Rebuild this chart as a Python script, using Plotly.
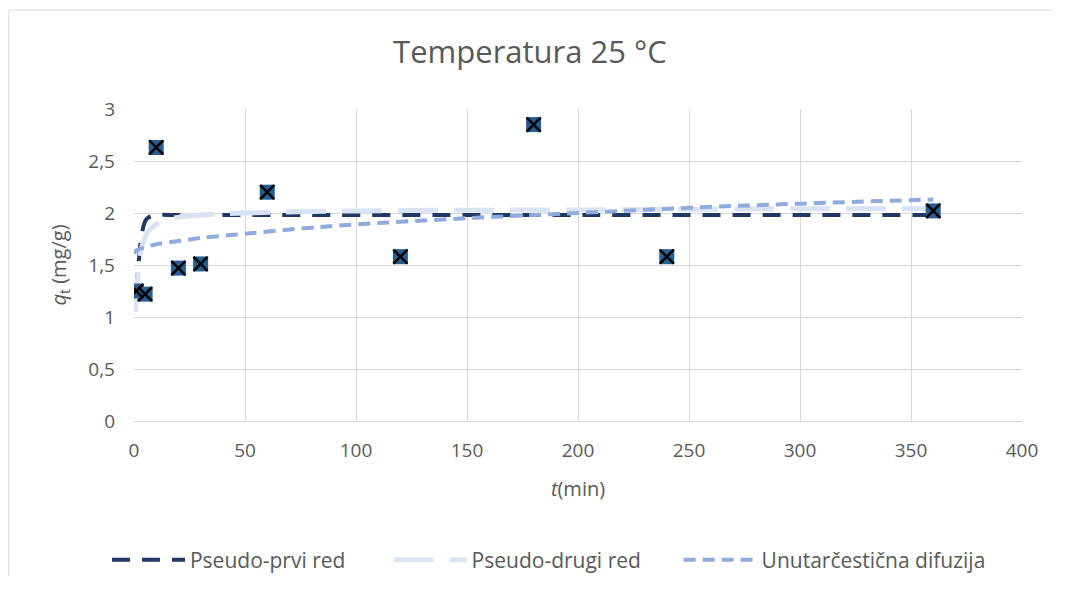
import plotly.graph_objects as go

# measured points
t_exp = [1, 5, 10, 20, 30, 60, 120, 180, 240, 360]
q_exp = [1.25, 1.22, 2.63, 1.47, 1.51, 2.20, 1.58, 2.85, 1.58, 2.02]

# model curves
t_pfo = [1, 2, 3, 4, 5, 6, 8, 10, 20, 50, 100, 200, 300, 360]
q_pfo = [1.25, 1.50, 1.72, 1.85, 1.92, 1.95, 1.97, 1.98, 1.98, 1.98, 1.98, 1.98, 1.98, 1.98]

t_pso = [0.5, 1, 2, 3, 4, 6, 8, 12, 20, 30, 50, 100, 200, 300, 360]
q_pso = [1.05, 1.20, 1.45, 1.62, 1.71, 1.81, 1.86, 1.91, 1.96, 1.98, 2.00, 2.02, 2.03, 2.04, 2.04]

t_ipd = [0, 1, 5, 10, 20, 30, 50, 75, 100, 150, 200, 250, 300, 360]
q_ipd = [1.61, 1.64, 1.67, 1.70, 1.73, 1.76, 1.80, 1.85, 1.89, 1.95, 2.00, 2.05, 2.09, 2.13]

DARK = "#203864"
LIGHT = "#DAE3F3"
MID = "#8FAADC"
MARKER = "#255E91"
GRID = "#D9D9D9"
TEXT = "#595959"

NB = "\u00a0"  # extra room after legend text, like the Excel legend

fig = go.Figure()
fig.add_trace(go.Scatter(
    x=t_pfo, y=q_pfo, mode="lines", name="Pseudo-prvi red" + NB * 7,
    line=dict(color=DARK, width=4, dash="18px,12px", shape="spline"),
))
fig.add_trace(go.Scatter(
    x=t_pso, y=q_pso, mode="lines", name="Pseudo-drugi red" + NB * 6,
    line=dict(color=LIGHT, width=5, dash="40px,16px", shape="spline"),
))
fig.add_trace(go.Scatter(
    x=t_ipd, y=q_ipd, mode="lines", name="Unutarčestična difuzija",
    line=dict(color=MID, width=4, dash="12px,7px", shape="spline"),
))
# filled squares, then a black cross on top
fig.add_trace(go.Scatter(
    x=t_exp, y=q_exp, mode="markers", showlegend=False, hoverinfo="skip",
    marker=dict(symbol="square", size=15, color=MARKER, line=dict(width=0)),
))
fig.add_trace(go.Scatter(
    x=t_exp, y=q_exp, mode="markers", showlegend=False,
    marker=dict(symbol="x-thin", size=14, color="#000000",
                line=dict(color="#000000", width=2.5)),
))

fig.update_layout(
    width=1044, height=568,
    paper_bgcolor="white", plot_bgcolor="white",
    separators=",.",
    font=dict(family="Open Sans, Liberation Sans, sans-serif", color=TEXT, size=19),
    margin=dict(l=126, r=30, t=101, b=155),
    title=dict(text="Temperatura 25 °C", x=0.5, xanchor="center",
               yref="container", y=0.923, yanchor="middle",
               font=dict(size=31, color=TEXT)),
    xaxis=dict(
        range=[0, 400], dtick=50, showgrid=True, gridcolor=GRID, gridwidth=1,
        zeroline=False, showline=True, linecolor=GRID, ticks="",
        ticklabelstandoff=12,
        title=dict(text="<i>t</i>(min)", font=dict(size=20), standoff=20),
        tickfont=dict(size=19),
    ),
    yaxis=dict(
        range=[0, 3], dtick=0.5, showgrid=True, gridcolor=GRID, gridwidth=1,
        zeroline=False, showline=False, ticks="",
        ticklabelstandoff=18,
        title=dict(text="<i>q</i><sub>t</sub> (mg/g)", font=dict(size=20), standoff=16),
        tickfont=dict(size=19),
    ),
    legend=dict(
        orientation="h", xref="container", x=0.0948, xanchor="left",
        yref="container", y=0.028, yanchor="middle",
        font=dict(size=21, color=TEXT), itemwidth=73,
        bgcolor="rgba(0,0,0,0)",
    ),
    # chart-area frame: only the left and top edges fall inside the picture
    shapes=[
        dict(type="line", xref="paper", yref="paper", x0=-0.141, x1=-0.141,
             y0=-0.8, y1=1.317, line=dict(color=GRID, width=1), layer="below"),
        dict(type="line", xref="paper", yref="paper", x0=-0.141, x1=1.2,
             y0=1.317, y1=1.317, line=dict(color=GRID, width=1), layer="below"),
    ],
)

fig.write_html("out.html")
